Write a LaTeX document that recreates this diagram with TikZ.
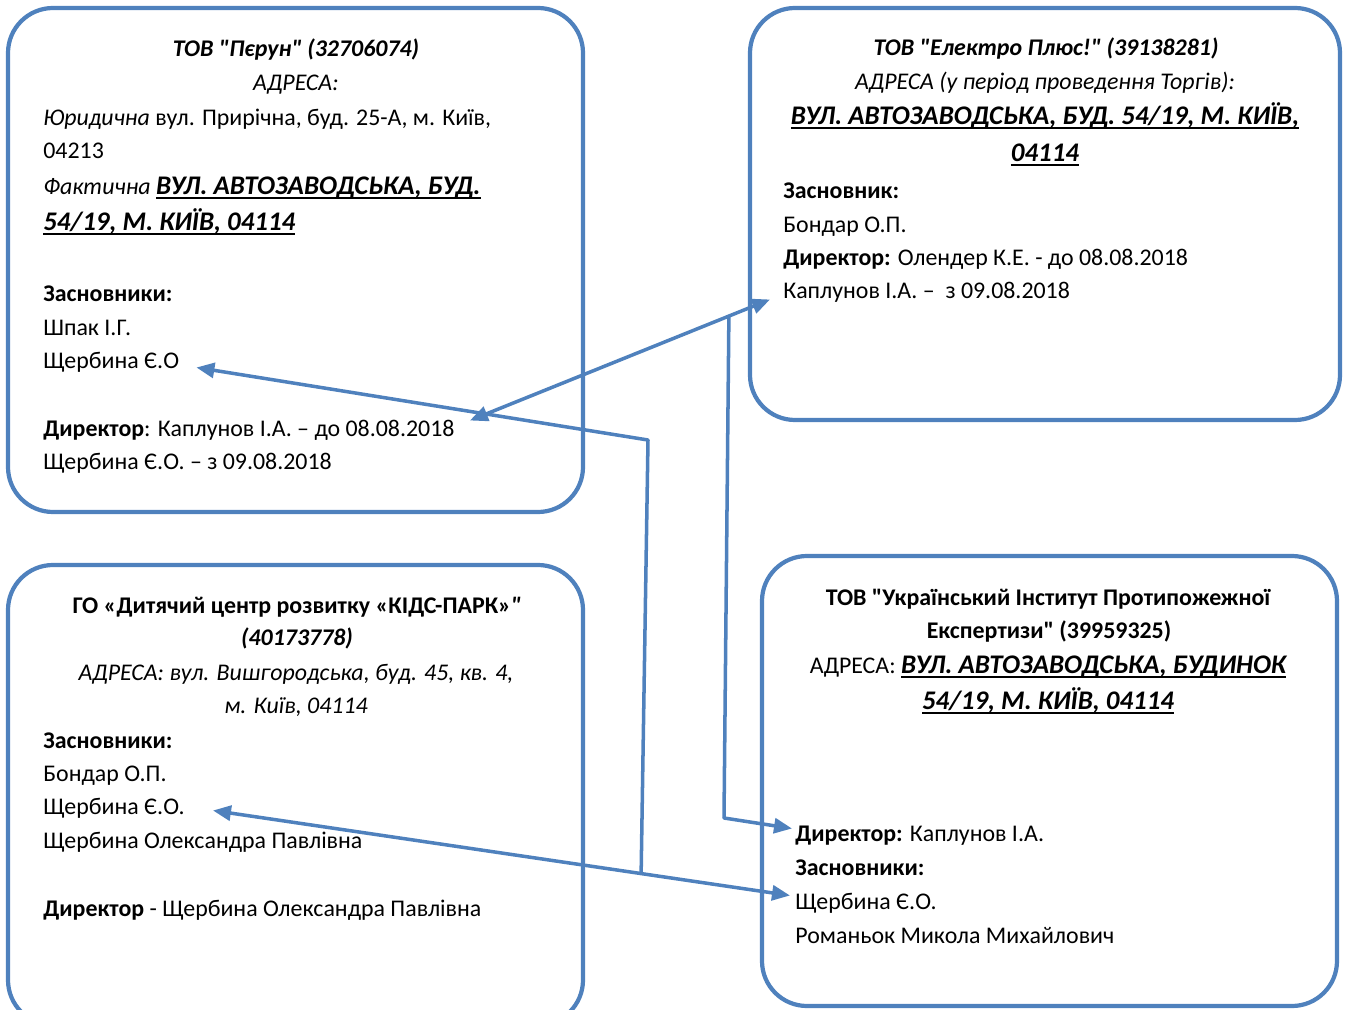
\documentclass[tikz,border=0pt]{standalone}
\usepackage{fontspec}
\setmainfont[Ligatures=TeXOff]{Carlito}
\usepackage{tikz}
\usetikzlibrary{arrows.meta, positioning}

\definecolor{linkblue}{RGB}{79,129,189}
\newcommand{\thickul}[1]{\setbox0\hbox{#1}\rlap{\rule[-2.6pt]{\wd0}{1.1pt}}\box0}
\newcommand{\bigaddr}[1]{{\fontsize{15.3}{18}\selectfont\bfseries\itshape\thickul{#1}}}

\begin{document}
\begin{tikzpicture}[x=0.02cm, y=-0.02cm, font=\fontsize{13.6}{16}\selectfont,
    firm/.style={draw=linkblue, line width=2.4pt, rounded corners=0.9cm},
    ln/.style={anchor=west, inner sep=0pt, text height=0.64em, text depth=0pt, yshift=-0.05cm},
    mid/.style={anchor=center, inner sep=0pt, text height=0.64em, text depth=0pt, yshift=-0.05cm},
    link/.style={draw=linkblue, line width=2pt, line join=round},
    tip/.tip={Triangle[length=0.36cm, width=0.3cm]}]
        \useasboundingbox (0,0) rectangle (1347,1010);

        % firms
        \draw[firm] (8,8) rectangle (583,512);
        \draw[firm] (750,8) rectangle (1340,420);
        \draw[firm] (8,565) rectangle (583,1025);
        \draw[firm] (762,556) rectangle (1337,1006);

        % nodes: ТОВ "Пєрун"
        \node[mid] (aTitle) at (296,48) {\bfseries\itshape ТОВ "Пєрун" (32706074)};
        \node[mid] (aAddr) at (296,82) {\itshape АДРЕСА:};
        \node[ln] (aLegal) at (43,117) {\textit{Юридична} вул. Прирічна, буд. 25-А, м. Київ,};
        \node[ln] (aZip) at (43,150) {04213};
        \node[ln] (aFact) at (43,186) {\textit{Фактична} \bigaddr{ВУЛ. АВТОЗАВОДСЬКА, БУД.}};
        \node[ln] (aFact2) at (43,222) {\bigaddr{54/19, М. КИЇВ, 04114}};
        \node[ln] (aFound) at (43,293) {\textbf{Засновники:}};
        \node[ln] (aShpak) at (43,327) {Шпак І.Г.};
        \node[ln] (aShch) at (43,360) {Щербина Є.О};
        \node[ln] (aDir) at (43,428) {\textbf{Директор}: Каплунов І.А. – до 08.08.2018};
        \node[ln] (aDir2) at (43,461) {Щербина Є.О. – з 09.08.2018};

        % nodes: ТОВ "Електро Плюс!"
        \node[mid] (bTitle) at (1046,47) {\bfseries\itshape ТОВ "Електро Плюс!" (39138281)};
        \node[mid] (bAddr) at (1045,81) {\itshape АДРЕСА (у період проведення Торгів):};
        \node[mid] (bAddr2) at (1045,116) {\bigaddr{ВУЛ. АВТОЗАВОДСЬКА, БУД. 54/19, М. КИЇВ,}};
        \node[mid] (bAddr3) at (1045,153) {\bigaddr{04114}};
        \node[ln] (bFound) at (783,190) {\textbf{Засновник:}};
        \node[ln] (bBond) at (783,224) {Бондар О.П.};
        \node[ln] (bDir) at (783,257) {\textbf{Директор:} Олендер К.Е. - до 08.08.2018};
        \node[ln] (bKap) at (783,290) {Каплунов І.А. –\ \ з 09.08.2018};

        % nodes: ГО "КІДС-ПАРК"
        \node[mid] (cTitle) at (297,605) {\bfseries ГО «Дитячий центр розвитку «КІДС-ПАРК»\textit{"}};
        \node[mid] (cCode) at (297,637) {\bfseries\itshape (40173778)};
        \node[mid] (cAddr) at (296,672) {\itshape АДРЕСА: вул. Вишгородська, буд. 45, кв. 4,};
        \node[mid] (cAddr2) at (296,705) {\itshape м. Київ, 04114};
        \node[ln] (cFound) at (43,740) {\textbf{Засновники:}};
        \node[ln] (cBond) at (43,773) {Бондар О.П.};
        \node[ln] (cShch) at (43,806) {Щербина Є.О.};
        \node[ln] (cShch2) at (43,840) {Щербина Олександра Павлівна};
        \node[ln] (cDir) at (43,908) {\textbf{Директор} - Щербина Олександра Павлівна};

        % nodes: ТОВ "УІПЕ"
        \node[mid] (dTitle) at (1048,597) {\bfseries ТОВ "Український Інститут Протипожежної};
        \node[mid] (dTitle2) at (1049,630) {\bfseries Експертизи" (39959325)};
        \node[mid] (dAddr) at (1048,665) {АДРЕСА: \bigaddr{ВУЛ. АВТОЗАВОДСЬКА, БУДИНОК}};
        \node[mid] (dAddr2) at (1048,701) {\bigaddr{54/19, М. КИЇВ, 04114}};
        \node[ln] (dDir) at (795,833) {\textbf{Директор:} Каплунов І.А.};
        \node[ln] (dFound) at (795,867) {\textbf{Засновники:}};
        \node[ln] (dShch) at (795,901) {Щербина Є.О.};
        \node[ln] (dRom) at (795,935) {Романьок Микола Михайлович};

        % edges
        \draw[link, tip-tip] ([shift={(15,-10)}]aDir.east) -- coordinate[pos=0.863] (j1) ([shift={(-13,7)}]bKap.west);
        \coordinate (k1) at (724,818);
        \draw[link, -tip] (j1) -- (k1) -- ([shift={(-3,-7)}]dDir.west);

        \draw[link, tip-tip] ([shift={(28,2)}]cShch.east) -- coordinate[pos=0.742] (j2) ([shift={(-5,-8)}]dShch.west);
        \coordinate (k2) at (648,440);
        \draw[link, -tip] (j2) -- (k2) -- ([shift={(17,5)}]aShch.east);

    \end{tikzpicture}
\end{document}
